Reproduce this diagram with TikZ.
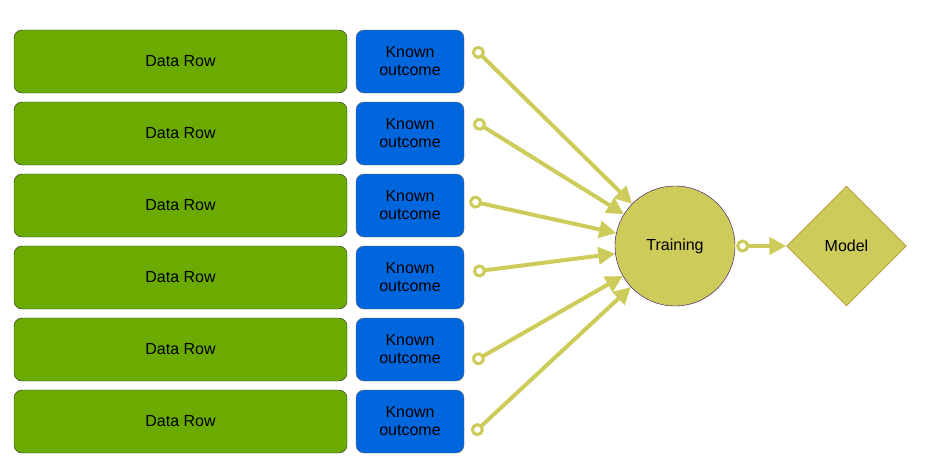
\documentclass[tikz,border=0pt]{standalone}
\usepackage{fontspec}
\setmainfont{Liberation Sans}
\usetikzlibrary{arrows.meta,shapes.geometric}

\definecolor{rowgreen}{RGB}{107,170,0}
\definecolor{outblue}{RGB}{0,102,221}
\definecolor{olive}{RGB}{205,203,90}

\tikzset{
  datarow/.style={draw=black!80,fill=rowgreen,rounded corners=8pt,minimum width=333pt,minimum height=63pt,font=\fontsize{16}{18}\selectfont},
  outcome/.style={draw=black!60,fill=outblue,rounded corners=8pt,minimum width=108pt,minimum height=63pt,align=center,font=\fontsize{16}{18}\selectfont},
  feed/.style={draw=olive,line width=4pt,shorten <=-6pt,{Circle[open,fill=white,length=13pt,width=13pt,line width=3pt]}-{Triangle[length=17pt,width=17pt]}}
}

\begin{document}
\begin{tikzpicture}[x=1pt,y=-1pt]
\useasboundingbox (0,0) rectangle (950,471);
\node [datarow] (r1) at (180.5,61.5) {Data Row};
\node [datarow] (r2) at (180.5,133.5) {Data Row};
\node [datarow] (r3) at (180.5,205.5) {Data Row};
\node [datarow] (r4) at (180.5,277.5) {Data Row};
\node [datarow] (r5) at (180.5,349.5) {Data Row};
\node [datarow] (r6) at (180.5,421.5) {Data Row};
\node [outcome] (k1) at (410,61.5) {Known\\outcome};
\node [outcome] (k2) at (410,133.5) {Known\\outcome};
\node [outcome] (k3) at (410,205.5) {Known\\outcome};
\node [outcome] (k4) at (410,277.5) {Known\\outcome};
\node [outcome] (k5) at (410,349.5) {Known\\outcome};
\node [outcome] (k6) at (410,421.5) {Known\\outcome};
\node [circle,draw=black!70!red!60!blue,fill=olive,minimum size=120pt,font=\fontsize{16}{18}\selectfont] (train) at (675,246) {Training};
\node [diamond,draw=black!60!red!60!yellow,fill=olive,minimum size=120pt,inner sep=0pt,font=\fontsize{16}{18}\selectfont] (model) at (846.5,246) {Model};
% loose ends of the feeds
\coordinate (o1) at (478,52);
\coordinate (o2) at (479,124);
\coordinate (o3) at (475,202);
\coordinate (o4) at (479,271);
\coordinate (o5) at (478,359);
\coordinate (o6) at (477,430);
\draw [feed] (o1) -- (train);
\draw [feed] (o2) -- (train);
\draw [feed] (o3) -- (train);
\draw [feed] (o4) -- (train);
\draw [feed] (o5) -- (train);
\draw [feed] (o6) -- (train);
\draw [feed,shorten <=1pt] (train) -- (model);
\end{tikzpicture}
\end{document}
